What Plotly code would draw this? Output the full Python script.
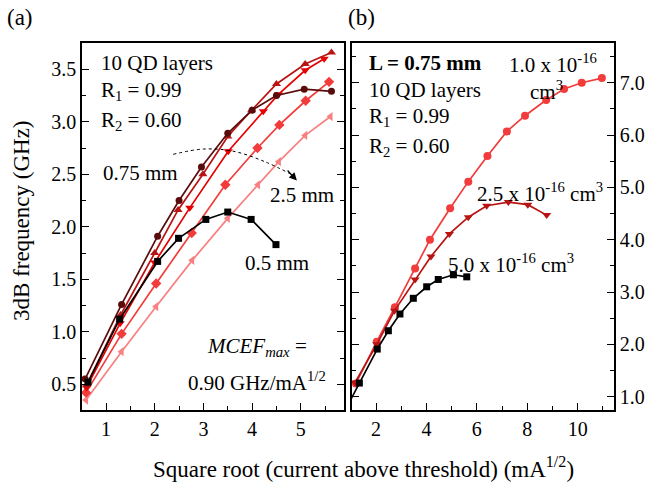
import plotly.graph_objects as go

# ---- Panel (a): cavity length series (sqrt(I - Ith) vs f3dB) ----
a_05_x = [0.63, 1.28, 2.06, 2.49, 3.05, 3.50, 3.98, 4.49]
a_05_y = [0.52, 1.12, 1.67, 1.89, 2.07, 2.14, 2.07, 1.83]

a_075_x = [0.57, 1.32, 2.06, 2.50, 2.96, 3.50, 4.00, 4.50, 5.07, 5.63]
a_075_y = [0.55, 1.26, 1.91, 2.25, 2.57, 2.89, 3.11, 3.25, 3.31, 3.29]

a_10_x = [0.60, 1.30, 2.00, 2.48, 2.99, 3.50, 3.99, 4.50, 5.09, 5.63]
a_10_y = [0.49, 1.16, 1.75, 2.16, 2.50, 2.86, 3.11, 3.36, 3.55, 3.66]

a_15_x = [0.60, 1.29, 2.00, 2.72, 3.51, 4.23, 4.54, 5.09, 5.48]
a_15_y = [0.47, 1.08, 1.66, 2.18, 2.72, 3.10, 3.26, 3.49, 3.60]

a_20_x = [0.59, 1.32, 2.03, 2.76, 3.45, 4.11, 4.56, 5.10, 5.58]
a_20_y = [0.42, 0.98, 1.46, 1.94, 2.40, 2.75, 2.97, 3.20, 3.38]

a_25_x = [0.59, 1.32, 2.03, 2.77, 3.50, 4.12, 4.55, 5.09, 5.61]
a_25_y = [0.35, 0.81, 1.24, 1.68, 2.08, 2.40, 2.62, 2.87, 3.05]

# curved arrow from the 0.75 mm curve towards the 2.5 mm curve
arrow_x = [2.38, 3.00, 3.61, 4.26, 4.80]
arrow_y = [2.69, 2.74, 2.72, 2.62, 2.50]

# ---- Panel (b): L = 0.75 mm, varying inhomogeneous broadening density ----
b_10_x = [1.20, 2.03, 2.75, 3.55, 4.14, 4.94, 5.66, 6.42, 7.19, 7.91, 8.75, 9.46, 10.16, 10.96]
b_10_y = [1.25, 2.05, 2.71, 3.45, 4.00, 4.60, 5.11, 5.60, 6.07, 6.37, 6.67, 6.88, 7.00, 7.09]

b_25_x = [1.17, 2.03, 2.73, 3.55, 4.18, 4.91, 5.66, 6.39, 7.25, 8.02, 8.77]
b_25_y = [1.27, 2.00, 2.64, 3.24, 3.68, 4.11, 4.43, 4.65, 4.72, 4.67, 4.47]

b_50_x = [0.57, 1.34, 2.05, 2.49, 2.95, 3.48, 4.01, 4.47, 5.07, 5.60]
b_50_y = [0.55, 1.26, 1.91, 2.26, 2.58, 2.88, 3.10, 3.24, 3.33, 3.29]

FONT = "Liberation Serif"
BLACK = "#000000"
MAROON = "#5a0c0c"
DARKRED = "#b81414"
RED = "#e60000"
LIGHTRED = "#f23c3c"
PINK = "#f88080"

fig = go.Figure()


def series(x, y, color, symbol, size, xa, ya):
    fig.add_trace(go.Scatter(
        x=x, y=y, mode="lines+markers", xaxis=xa, yaxis=ya,
        line=dict(color=color, width=1.7),
        marker=dict(symbol=symbol, size=size, color=color),
        showlegend=False, hoverinfo="skip"))


# panel (a) traces
series(a_25_x, a_25_y, PINK, "triangle-left", 8, "x", "y")
series(a_20_x, a_20_y, LIGHTRED, "diamond", 8, "x", "y")
series(a_15_x, a_15_y, RED, "triangle-down", 8, "x", "y")
series(a_10_x, a_10_y, DARKRED, "triangle-up", 8, "x", "y")
series(a_075_x, a_075_y, MAROON, "circle", 7, "x", "y")
series(a_05_x, a_05_y, BLACK, "square", 7, "x", "y")

fig.add_trace(go.Scatter(
    x=arrow_x, y=arrow_y, mode="lines", xaxis="x", yaxis="y",
    line=dict(color=BLACK, width=1, dash="dot", shape="spline"),
    showlegend=False, hoverinfo="skip"))

# panel (b) traces
series(b_10_x, b_10_y, LIGHTRED, "circle", 8, "x2", "y2")
series(b_25_x, b_25_y, DARKRED, "triangle-down", 8, "x2", "y2")
series(b_50_x, b_50_y, BLACK, "square", 7, "x2", "y2")

tickfont = dict(family=FONT, size=20, color=BLACK)
common = dict(showline=True, linewidth=1.5, linecolor=BLACK, ticks="inside",
              ticklen=7, tickwidth=1.3, tickcolor=BLACK, showgrid=False,
              zeroline=False, tickfont=tickfont)

fig.update_layout(
    width=646, height=483,
    margin=dict(l=0, r=0, t=0, b=0),
    paper_bgcolor="white", plot_bgcolor="white",
    font=dict(family=FONT, size=20, color=BLACK),
    xaxis=dict(domain=[82 / 646, 344 / 646], range=[0.507, 5.887],
               tick0=0, dtick=1, mirror=True,
               minor=dict(ticks="inside", ticklen=4, dtick=0.5, tickcolor=BLACK),
               anchor="y", **common),
    yaxis=dict(domain=[1 - 410 / 483, 1 - 43 / 483], range=[0.255, 3.75],
               tick0=0, dtick=0.5, tickformat=".1f", mirror="ticks",
               minor=dict(ticks="inside", ticklen=4, dtick=0.25, tickcolor=BLACK),
               anchor="x", **common),
    xaxis2=dict(domain=[352 / 646, 614 / 646], range=[1.048, 11.44],
                tick0=0, dtick=2, mirror=True,
                minor=dict(ticks="inside", ticklen=4, dtick=1, tickcolor=BLACK),
                anchor="y2", **common),
    yaxis2=dict(domain=[1 - 410 / 483, 1 - 43 / 483], range=[0.745, 7.76],
                tick0=0, dtick=1, tickformat=".1f", side="right", mirror="ticks",
                minor=dict(ticks="inside", ticklen=4, dtick=0.5, tickcolor=BLACK),
                anchor="x2", **common),
)


def note(text, x, y, xref="paper", yref="paper", xanchor="center", size=21, **kw):
    fig.add_annotation(text=text, x=x, y=y, xref=xref, yref=yref,
                       xanchor=xanchor, yanchor="middle", showarrow=False,
                       font=dict(family=FONT, size=size, color=BLACK), **kw)


def px(xp, yp):
    return xp / 646, 1 - yp / 483


# panel labels and axis titles
note("(a)", *px(20, 18), size=23)
note("(b)", *px(361, 18), size=23)
note("3dB frequency (GHz)", *px(22, 221), size=23, textangle=-90)
note("Square root (current above threshold) (mA<sup>1/2</sup>)", *px(364, 467), size=23)

# panel (a) text
note("10 QD layers", *px(99, 63), xanchor="left")
note("R<sub>1</sub> = 0.99", *px(99, 91), xanchor="left")
note("R<sub>2</sub> = 0.60", *px(99, 121), xanchor="left")
note("0.75 mm", *px(140, 173))
note("2.5 mm", *px(302, 195))
note("0.5 mm", *px(277, 263))
note("<i>MCEF<sub>max</sub></i> =", *px(257, 347))
note("0.90 GHz/mA<sup>1/2</sup>", *px(257, 381))

# arrowhead at the end of the dotted curve
fig.add_annotation(x=4.92, y=2.44, ax=4.70, ay=2.55, xref="x", yref="y",
                   axref="x", ayref="y", showarrow=True, arrowhead=2,
                   arrowsize=1.3, arrowwidth=1.2, arrowcolor=BLACK, text="")

# panel (b) text
note("<b>L = 0.75 mm</b>", *px(367, 63), xanchor="left")
note("10 QD layers", *px(367, 90), xanchor="left")
note("R<sub>1</sub> = 0.99", *px(367, 117), xanchor="left")
note("R<sub>2</sub> = 0.60", *px(367, 147), xanchor="left")
note("1.0 x 10<sup>-16</sup>", *px(553, 63))
note("cm<sup>3</sup>", *px(546, 90))
note("2.5 x 10<sup>-16</sup> cm<sup>3</sup>", *px(540, 192))
note("5.0 x 10<sup>-16</sup> cm<sup>3</sup>", *px(511, 263))

fig.write_html("out.html")
